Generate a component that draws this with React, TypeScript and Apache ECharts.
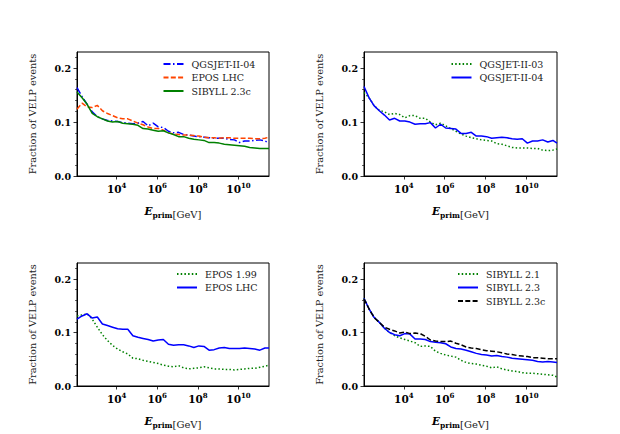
import React, { useEffect, useRef } from 'react';
import * as echarts from 'echarts';

// log10(E_prim / GeV) sample positions shared by all curves
const LOG_E = [2.05, 2.3, 2.55, 2.8, 3.05, 3.3, 3.55, 3.8, 4.05, 4.3, 4.55, 4.8, 5.05, 5.3, 5.55, 5.8, 6.05, 6.3, 6.55, 6.8, 7.05, 7.3, 7.55, 7.8, 8.05, 8.3, 8.55, 8.8, 9.05, 9.3, 9.55, 9.8, 10.05, 10.3, 10.55, 10.8, 11.05, 11.3, 11.5];

const X_MIN = 2.05;
const X_MAX = 11.5;
const X_TICKS = [4, 6, 8, 10];
const Y_MAX = 0.23;
const Y_TICKS = [0, 0.1, 0.2];
const Y_MINOR = [0.02, 0.04, 0.06, 0.08, 0.12, 0.14, 0.16, 0.18, 0.22];

// Top-left panel
const TL_QGSJET_II_04 = [0.164, 0.147, 0.133, 0.119, 0.110, 0.106, 0.103, 0.102, 0.101, 0.099, 0.098, 0.097, 0.098, 0.101, 0.093, 0.098, 0.091, 0.090, 0.083, 0.080, 0.081, 0.077, 0.076, 0.074, 0.073, 0.072, 0.071, 0.070, 0.070, 0.070, 0.068, 0.067, 0.062, 0.065, 0.065, 0.066, 0.067, 0.065, 0.061];
const TL_EPOS_LHC = [0.124, 0.135, 0.128, 0.127, 0.131, 0.121, 0.116, 0.112, 0.108, 0.106, 0.106, 0.102, 0.098, 0.095, 0.091, 0.088, 0.088, 0.085, 0.080, 0.078, 0.077, 0.076, 0.076, 0.075, 0.074, 0.072, 0.071, 0.071, 0.070, 0.071, 0.071, 0.070, 0.070, 0.070, 0.070, 0.069, 0.069, 0.070, 0.072];
const TL_SIBYLL_23C = [0.156, 0.145, 0.133, 0.116, 0.110, 0.106, 0.102, 0.100, 0.101, 0.098, 0.097, 0.096, 0.094, 0.088, 0.087, 0.085, 0.083, 0.084, 0.080, 0.077, 0.073, 0.073, 0.070, 0.068, 0.067, 0.066, 0.062, 0.062, 0.061, 0.059, 0.058, 0.057, 0.056, 0.055, 0.053, 0.052, 0.051, 0.051, 0.051];

// Top-right panel
const TR_QGSJET_II_03 = [0.155, 0.145, 0.130, 0.122, 0.119, 0.114, 0.116, 0.114, 0.108, 0.112, 0.112, 0.107, 0.107, 0.100, 0.095, 0.098, 0.093, 0.088, 0.083, 0.078, 0.074, 0.071, 0.069, 0.067, 0.066, 0.065, 0.060, 0.059, 0.056, 0.053, 0.052, 0.052, 0.052, 0.051, 0.051, 0.048, 0.047, 0.048, 0.050];
const TR_QGSJET_II_04 = [0.166, 0.145, 0.130, 0.121, 0.113, 0.104, 0.107, 0.102, 0.102, 0.100, 0.096, 0.097, 0.097, 0.099, 0.089, 0.096, 0.089, 0.088, 0.087, 0.079, 0.079, 0.081, 0.074, 0.074, 0.073, 0.070, 0.071, 0.072, 0.071, 0.069, 0.068, 0.069, 0.061, 0.065, 0.065, 0.067, 0.063, 0.066, 0.061];

// Bottom-left panel
const BL_EPOS_199 = [0.131, 0.133, 0.135, 0.125, 0.110, 0.096, 0.085, 0.076, 0.069, 0.064, 0.060, 0.052, 0.051, 0.048, 0.046, 0.044, 0.042, 0.039, 0.037, 0.036, 0.038, 0.034, 0.032, 0.033, 0.034, 0.036, 0.034, 0.032, 0.032, 0.031, 0.031, 0.030, 0.031, 0.032, 0.033, 0.033, 0.035, 0.037, 0.039];
const BL_EPOS_LHC = [0.125, 0.131, 0.135, 0.127, 0.129, 0.116, 0.113, 0.110, 0.107, 0.106, 0.106, 0.094, 0.091, 0.089, 0.087, 0.084, 0.086, 0.087, 0.078, 0.076, 0.077, 0.077, 0.075, 0.072, 0.075, 0.074, 0.067, 0.068, 0.071, 0.072, 0.070, 0.070, 0.070, 0.071, 0.070, 0.069, 0.067, 0.071, 0.071];

// Bottom-right panel
const BR_SIBYLL_21 = [0.164, 0.144, 0.128, 0.119, 0.108, 0.100, 0.094, 0.090, 0.087, 0.084, 0.081, 0.074, 0.075, 0.074, 0.065, 0.061, 0.058, 0.056, 0.054, 0.048, 0.044, 0.042, 0.041, 0.039, 0.037, 0.034, 0.036, 0.032, 0.030, 0.028, 0.027, 0.025, 0.024, 0.024, 0.023, 0.022, 0.021, 0.020, 0.017];
const BR_SIBYLL_23 = [0.164, 0.144, 0.128, 0.119, 0.108, 0.100, 0.096, 0.094, 0.098, 0.097, 0.088, 0.088, 0.087, 0.083, 0.082, 0.081, 0.079, 0.073, 0.070, 0.069, 0.067, 0.064, 0.061, 0.059, 0.058, 0.056, 0.057, 0.055, 0.054, 0.052, 0.051, 0.050, 0.049, 0.048, 0.046, 0.045, 0.046, 0.045, 0.044];
const BR_SIBYLL_23C = [0.163, 0.144, 0.128, 0.119, 0.110, 0.106, 0.103, 0.099, 0.101, 0.098, 0.099, 0.098, 0.093, 0.086, 0.084, 0.083, 0.083, 0.084, 0.080, 0.077, 0.073, 0.071, 0.070, 0.068, 0.066, 0.065, 0.064, 0.062, 0.060, 0.059, 0.057, 0.056, 0.055, 0.053, 0.053, 0.052, 0.051, 0.051, 0.051];

const BLUE = '#0000ff';
const ORANGE = '#ff4500';
const GREEN = '#008000';
const BLACK = '#000000';
const DASHDOT = [7, 2.5, 1.5, 2.5];
const DASHED = [5, 2.3];
const DOTTED = [1.5, 2.2];

type Curve = { label: string; data: number[]; color: string; dash: number[] | 'solid' };

const PANELS: { curves: Curve[]; legendLeft: number; legendTop: number }[] = [
  {
    curves: [
      { label: 'QGSJET-II-04', data: TL_QGSJET_II_04, color: BLUE, dash: DASHDOT },
      { label: 'EPOS LHC', data: TL_EPOS_LHC, color: ORANGE, dash: DASHED },
      { label: 'SIBYLL 2.3c', data: TL_SIBYLL_23C, color: GREEN, dash: 'solid' },
    ],
    legendLeft: 162.5,
    legendTop: 58,
  },
  {
    curves: [
      { label: 'QGSJET-II-03', data: TR_QGSJET_II_03, color: GREEN, dash: DOTTED },
      { label: 'QGSJET-II-04', data: TR_QGSJET_II_04, color: BLUE, dash: 'solid' },
    ],
    legendLeft: 450.5,
    legendTop: 58,
  },
  {
    curves: [
      { label: 'EPOS 1.99', data: BL_EPOS_199, color: GREEN, dash: DOTTED },
      { label: 'EPOS LHC', data: BL_EPOS_LHC, color: BLUE, dash: 'solid' },
    ],
    legendLeft: 176,
    legendTop: 268,
  },
  {
    curves: [
      { label: 'SIBYLL 2.1', data: BR_SIBYLL_21, color: GREEN, dash: DOTTED },
      { label: 'SIBYLL 2.3', data: BR_SIBYLL_23, color: BLUE, dash: 'solid' },
      { label: 'SIBYLL 2.3c', data: BR_SIBYLL_23C, color: BLACK, dash: DASHED },
    ],
    legendLeft: 457,
    legendTop: 268,
  },
];

const GRIDS = [
  { left: 77, top: 52, width: 192, height: 124 },
  { left: 364, top: 52, width: 193, height: 124 },
  { left: 77, top: 263, width: 192, height: 123 },
  { left: 364, top: 263, width: 193, height: 123 },
];

const SERIF = "'DejaVu Serif', 'Liberation Serif', serif";

export default function App() {
  const ref = useRef<HTMLDivElement>(null);

  useEffect(() => {
    if (!ref.current) return;
    const chart = echarts.init(ref.current, undefined, { renderer: 'svg' });

    const xAxes = GRIDS.map((_, i) => ({
      type: 'value',
      gridIndex: i,
      min: X_MIN,
      max: X_MAX,
      axisLine: { show: true, lineStyle: { color: '#000', width: 1 } },
      axisTick: { show: true, inside: false, length: 3.5, customValues: X_TICKS, lineStyle: { color: '#000', width: 0.8 } },
      axisLabel: {
        customValues: X_TICKS,
        margin: 6,
        formatter: (v: number) => `{b|10}{s|${Math.round(v)}}`,
        rich: {
          b: { fontFamily: SERIF, fontWeight: 'bold', fontSize: 10.5, color: '#000', lineHeight: 12, verticalAlign: 'bottom' },
          s: { fontFamily: SERIF, fontWeight: 'bold', fontSize: 7, color: '#000', lineHeight: 8, verticalAlign: 'top' },
        },
      },
      splitLine: { show: false },
      name: '{e|E}{p|prim}{g|[GeV]}',
      nameLocation: 'middle',
      nameGap: 29,
      nameTextStyle: {
        rich: {
          e: { fontFamily: SERIF, fontWeight: 'bold', fontStyle: 'italic', fontSize: 10.5, color: '#000', lineHeight: 14, verticalAlign: 'top' },
          p: { fontFamily: SERIF, fontWeight: 'bold', fontSize: 7.5, color: '#000', lineHeight: 6, verticalAlign: 'bottom' },
          g: { fontFamily: SERIF, fontSize: 10, color: '#222', lineHeight: 13, verticalAlign: 'bottom' },
        },
      },
    }));

    const yMajor = GRIDS.map((_, i) => ({
      type: 'value',
      gridIndex: i,
      position: 'left',
      min: 0,
      max: Y_MAX,
      axisLine: { show: true, lineStyle: { color: '#000', width: 1 } },
      axisTick: { show: true, inside: false, length: 3.5, customValues: Y_TICKS, lineStyle: { color: '#000', width: 0.8 } },
      axisLabel: {
        customValues: Y_TICKS,
        margin: 6,
        formatter: (v: number) => v.toFixed(1),
        fontFamily: SERIF,
        fontWeight: 'bold',
        fontSize: 9.5,
        color: '#000',
      },
      splitLine: { show: false },
      name: 'Fraction of VELP events',
      nameLocation: 'middle',
      nameGap: 40,
      nameTextStyle: { fontFamily: SERIF, fontSize: 9.8, color: '#222' },
    }));

    const yMinor = GRIDS.map((_, i) => ({
      type: 'value',
      gridIndex: i,
      position: 'left',
      min: 0,
      max: Y_MAX,
      axisLine: { show: false },
      axisTick: { show: true, inside: false, length: 2, customValues: Y_MINOR, lineStyle: { color: '#000', width: 0.6 } },
      axisLabel: { show: false },
      splitLine: { show: false },
    }));

    const series: any[] = [];
    const legends: any[] = [];
    PANELS.forEach((panel, i) => {
      const names: string[] = [];
      panel.curves.forEach((c) => {
        const name = `${c.label}|${i}`;
        names.push(name);
        series.push({
          type: 'line',
          name,
          xAxisIndex: i,
          yAxisIndex: i,
          symbol: 'none',
          showSymbol: false,
          data: LOG_E.map((x, k) => [x, c.data[k]]),
          lineStyle: { color: c.color, width: 1.5, type: c.dash },
          itemStyle: { color: c.color },
          emphasis: { disabled: true },
        });
      });
      legends.push({
        orient: 'vertical',
        left: panel.legendLeft,
        top: panel.legendTop,
        padding: 0,
        itemGap: 1.5,
        itemWidth: 20,
        itemHeight: 8,
        selectedMode: false,
        itemStyle: { opacity: 0 },
        data: names,
        formatter: (n: string) => n.split('|')[0],
        textStyle: { fontFamily: SERIF, fontSize: 9.5, color: '#222', lineHeight: 12, padding: [0, 0, 0, 3] },
      });
    });

    chart.setOption({
      animation: false,
      backgroundColor: '#fff',
      textStyle: { fontFamily: SERIF },
      grid: GRIDS.map((g) => ({ ...g, show: true, borderColor: '#000', borderWidth: 1, backgroundColor: 'transparent', containLabel: false })),
      xAxis: xAxes,
      yAxis: [...yMajor, ...yMinor],
      legend: legends,
      series,
    } as any);

    return () => chart.dispose();
  }, []);

  return <div ref={ref} style={{ position: 'fixed', left: 0, top: 0, width: 620, height: 434 }} />;
}
